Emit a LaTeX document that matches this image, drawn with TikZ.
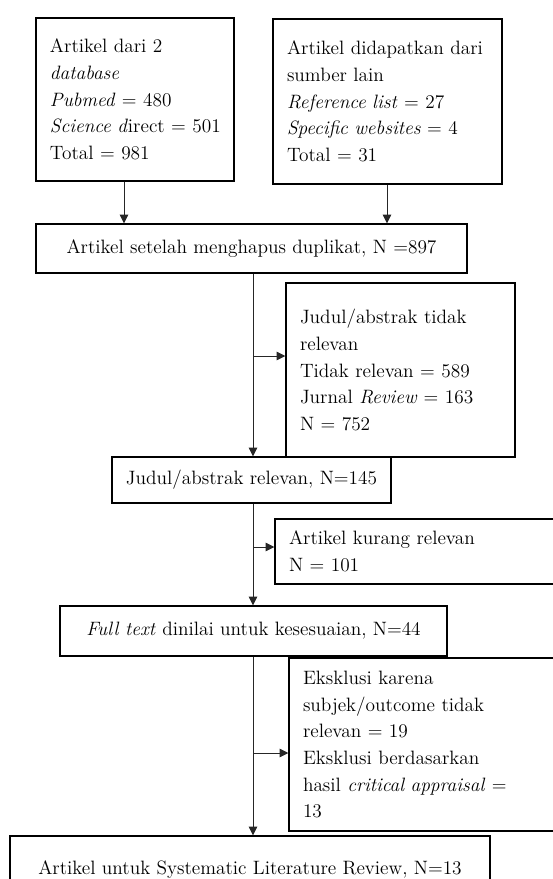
\documentclass[tikz,border=0pt]{standalone}
\usepackage{tikz}
\usetikzlibrary{arrows.meta}

\begin{document}
\begin{tikzpicture}[x=0.75pt,y=-0.75pt,
    box/.style={draw, line width=1.1pt, inner ysep=0pt,
                font=\fontsize{14.5}{20}\selectfont},
    leftbox/.style={box, align=left, inner xsep=10.5pt, text width=#1},
    midbox/.style={box, align=center},
    arr/.style={-{Triangle[length=6.5pt,width=6.5pt]}, line width=0.6pt, black!85}]
    %\draw[help lines] (0,0) grid (553,879);
    \useasboundingbox (0,0) rectangle (553,879);
    \clip (0,0) rectangle (553,879);

    % sumber artikel
    \node[leftbox=127.5pt, minimum width=148.5pt, minimum height=122.25pt] (db) at (135,99.5)
        {Artikel dari 2\\ \textit{database}\\ \textit{Pubmed} = 480\\ \mbox{\textit{Science d}irect = 501}\\ Total = 981};
    \node[leftbox=150.75pt, minimum width=171.75pt, minimum height=123.75pt] (lain) at (387.5,101.5)
        {Artikel didapatkan dari\\ sumber lain\\ \textit{Reference list} = 27\\ \textit{Specific websites} = 4\\ Total = 31};

    % alur utama
    \node[midbox, minimum width=323.25pt, minimum height=36.75pt] (duplikat) at (251.5,248.5)
        {Artikel setelah menghapus duplikat, N =897};
    \node[midbox, minimum width=209.25pt, minimum height=34.5pt] (relevan) at (251.5,480)
        {Judul/abstrak relevan, N=145};
    \node[midbox, minimum width=290.25pt, minimum height=37.5pt] (fulltext) at (253.5,631)
        {\textit{Full text} dinilai untuk kesesuaian, N=44};
    \node[midbox, minimum width=360pt, minimum height=51pt] (akhir) at (250,870)
        {Artikel untuk Systematic Literature Review, N=13};

    % eksklusi
    \node[leftbox=150.75pt, minimum width=171.75pt, minimum height=130.5pt] (tdkrel) at (400.5,370)
        {Judul/abstrak tidak\\ relevan\\ Tidak relevan = 589\\ Jurnal \textit{Review} = 163\\ N = 752};
    \node[leftbox=204pt, minimum width=225pt, minimum height=48.75pt] (kurang) at (425,551.5)
        {Artikel kurang relevan\\ N = 101};
    \node[leftbox=204pt, minimum width=225pt, minimum height=129.75pt] (eksklusi) at (439,744.5)
        {Eksklusi karena\\ subjek/outcome tidak\\ relevan = 19\\ Eksklusi berdasarkan\\ hasil \textit{critical appraisal} =\\ 13};

    \coordinate (xdb) at (124,0);
    \coordinate (xlain) at (387,0);
    \coordinate (spine) at (253,0);
    \coordinate (k1) at (253,356);
    \coordinate (k2) at (253,547);
    \coordinate (k3) at (253,753);

    \draw[arr] (db.south -| xdb) -- (duplikat.north -| xdb);
    \draw[arr] (lain.south -| xlain) -- (duplikat.north -| xlain);

    \draw[arr] (duplikat.south -| spine) -- (relevan.north -| spine);
    \draw[arr] (relevan.south -| spine) -- (fulltext.north -| spine);
    \draw[arr] (fulltext.south -| spine) -- (akhir.north -| spine);

    \draw[arr] (k1) -- (k1 -| tdkrel.west);
    \draw[arr] (k2) -- (k2 -| kurang.west);
    \draw[arr] (k3) -- (k3 -| eksklusi.west);
\end{tikzpicture}
\end{document}
